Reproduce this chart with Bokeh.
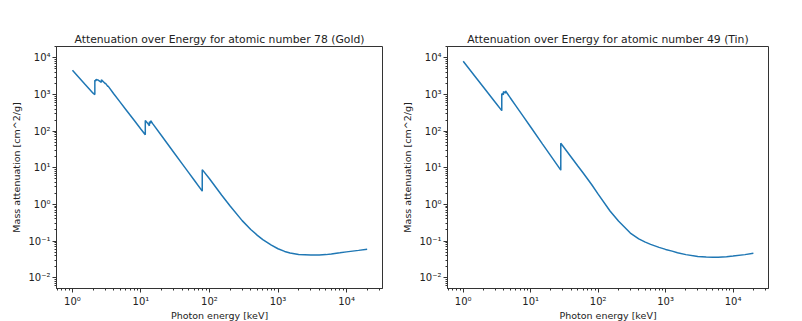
from bokeh.plotting import figure
from bokeh.layouts import row
from bokeh.models import FixedTicker, CustomJSTickFormatter, Range1d
from bokeh.embed import file_html
from bokeh.resources import INLINE

# ---- data (photon energy in keV, mass attenuation in cm^2/g) ----
energy_left = [1.0, 1.5, 2.0, 2.122, 2.122, 2.202, 2.202, 2.4, 2.645, 2.645, 3.0, 3.027, 3.027,
               3.296, 3.296, 4.0, 5.0, 6.0, 8.0, 10.0, 11.564, 11.564, 12.5, 13.273, 13.273,
               13.88, 13.88, 15.0, 20.0, 30.0, 40.0, 50.0, 60.0, 78.395, 78.395, 80.0, 100.0,
               150.0, 200.0, 300.0, 400.0, 500.0, 600.0, 800.0, 1000.0, 1250.0, 1500.0, 2000.0,
               3000.0, 4000.0, 5000.0, 6000.0, 8000.0, 10000.0, 15000.0, 20000.0]
atten_left = [4570, 1970, 1090, 1000, 2450, 2350, 2600, 2450, 2150, 2550, 2000, 1960, 2050,
              1650, 1720, 1050, 610, 392, 195, 113, 79.5, 195, 165, 140, 182,
              165, 192, 156, 74.8, 26.6, 12.8, 7.24, 4.55, 2.30, 8.9, 8.5, 5.0,
              1.8, 0.90, 0.36, 0.207, 0.143, 0.109, 0.077, 0.0615, 0.052, 0.0472, 0.0428,
              0.0412, 0.0414, 0.0425, 0.044, 0.0475, 0.0505, 0.0555, 0.060]

energy_right = [1.0, 1.5, 2.0, 3.0, 3.73, 3.73, 3.938, 3.938, 4.238, 4.238, 5.0, 6.0, 8.0, 10.0,
                15.0, 20.0, 27.94, 27.94, 30.0, 40.0, 50.0, 60.0, 80.0, 100.0, 150.0, 200.0,
                300.0, 400.0, 500.0, 600.0, 800.0, 1000.0, 1250.0, 1500.0, 2000.0, 3000.0,
                4000.0, 5000.0, 6000.0, 8000.0, 10000.0, 15000.0, 20000.0]
atten_right = [8100, 3110, 1577, 606, 363, 1050, 990, 1200, 1100, 1250, 807, 499, 234, 130,
               44.4, 20.8, 8.6, 47, 39.5, 19.4, 11.2, 7.17, 3.5, 1.9, 0.66, 0.35,
               0.165, 0.114, 0.093, 0.081, 0.067, 0.059, 0.053, 0.048, 0.0425, 0.038,
               0.0365, 0.036, 0.0362, 0.0372, 0.0387, 0.0425, 0.0465]

title_left = "Attenuation over Energy for atomic number 78 (Gold)"
title_right = "Attenuation over Energy for atomic number 49 (Tin)"
x_label = "Photon energy [keV]"
y_label = "Mass attenuation [cm^2/g]"

x_exps = [0, 1, 2, 3, 4]
x_tick_labels = ["10\u2070", "10\u00b9", "10\u00b2", "10\u00b3", "10\u2074"]
y_exps = [-2, -1, 0, 1, 2, 3, 4]
y_tick_labels = ["10\u207b\u00b2", "10\u207b\u00b9", "10\u2070", "10\u00b9", "10\u00b2", "10\u00b3", "10\u2074"]

FONT = "DejaVu Sans"
LINE = "#1f77b4"
TXT = "#222222"


def make_ticker(exps, lo, hi):
    major = [10.0 ** e for e in exps]
    minor = []
    for d in range(lo, hi + 1):
        for m in range(2, 10):
            minor.append(m * 10.0 ** d)
    return FixedTicker(ticks=major, minor_ticks=minor)


def make_formatter(exps, labels):
    return CustomJSTickFormatter(args=dict(exps=exps, labels=labels), code="""
        const e = Math.round(Math.log10(tick));
        const i = exps.indexOf(e);
        return i >= 0 ? labels[i] : "";
    """)


def make_plot(title, xs, ys, width, border_left, border_top, border_right):
    p = figure(width=width, height=323, x_axis_type="log", y_axis_type="log",
               x_range=Range1d(0.585, 33500), y_range=Range1d(0.00505, 20500),
               output_backend="svg", toolbar_location=None, title=title,
               min_border_left=border_left, min_border_right=border_right,
               min_border_top=border_top, min_border_bottom=0)
    p.line(xs, ys, line_color=LINE, line_width=1.5)
    p.title.align = "center"
    p.title.text_font = FONT
    p.title.text_font_size = "10.8px"
    p.title.text_font_style = "normal"
    p.title.text_color = TXT
    p.title.standoff = 2
    p.grid.visible = False
    p.outline_line_color = "#333333"
    p.outline_line_width = 1
    p.outline_line_alpha = 1
    p.xaxis.ticker = make_ticker(x_exps, -1, 4)
    p.yaxis.ticker = make_ticker(y_exps, -3, 4)
    p.xaxis.formatter = make_formatter(x_exps, x_tick_labels)
    p.yaxis.formatter = make_formatter(y_exps, y_tick_labels)
    p.xaxis.axis_label = x_label
    p.yaxis.axis_label = y_label
    for ax in (p.xaxis[0], p.yaxis[0]):
        ax.axis_line_color = "#333333"
        ax.major_tick_line_color = "#333333"
        ax.minor_tick_line_color = "#333333"
        ax.major_tick_out = 4
        ax.major_tick_in = 0
        ax.minor_tick_out = 2
        ax.minor_tick_in = 0
        ax.major_label_text_font = FONT
        ax.major_label_text_font_size = "10px"
        ax.major_label_text_color = TXT
        ax.axis_label_text_font = FONT
        ax.axis_label_text_font_size = "9.5px"
        ax.axis_label_text_font_style = "normal"
        ax.axis_label_text_color = TXT
    p.xaxis.major_label_standoff = 3
    p.xaxis.axis_label_standoff = 0
    p.yaxis.major_label_standoff = 2
    p.yaxis.axis_label_standoff = 3
    return p


p1 = make_plot(title_left, energy_left, atten_left, 399, 56, 44, 17)
p2 = make_plot(title_right, energy_right, atten_right, 394, 44, 46, 25)
layout = row(p1, p2)

open("out.html", "w").write(file_html(layout, INLINE))
